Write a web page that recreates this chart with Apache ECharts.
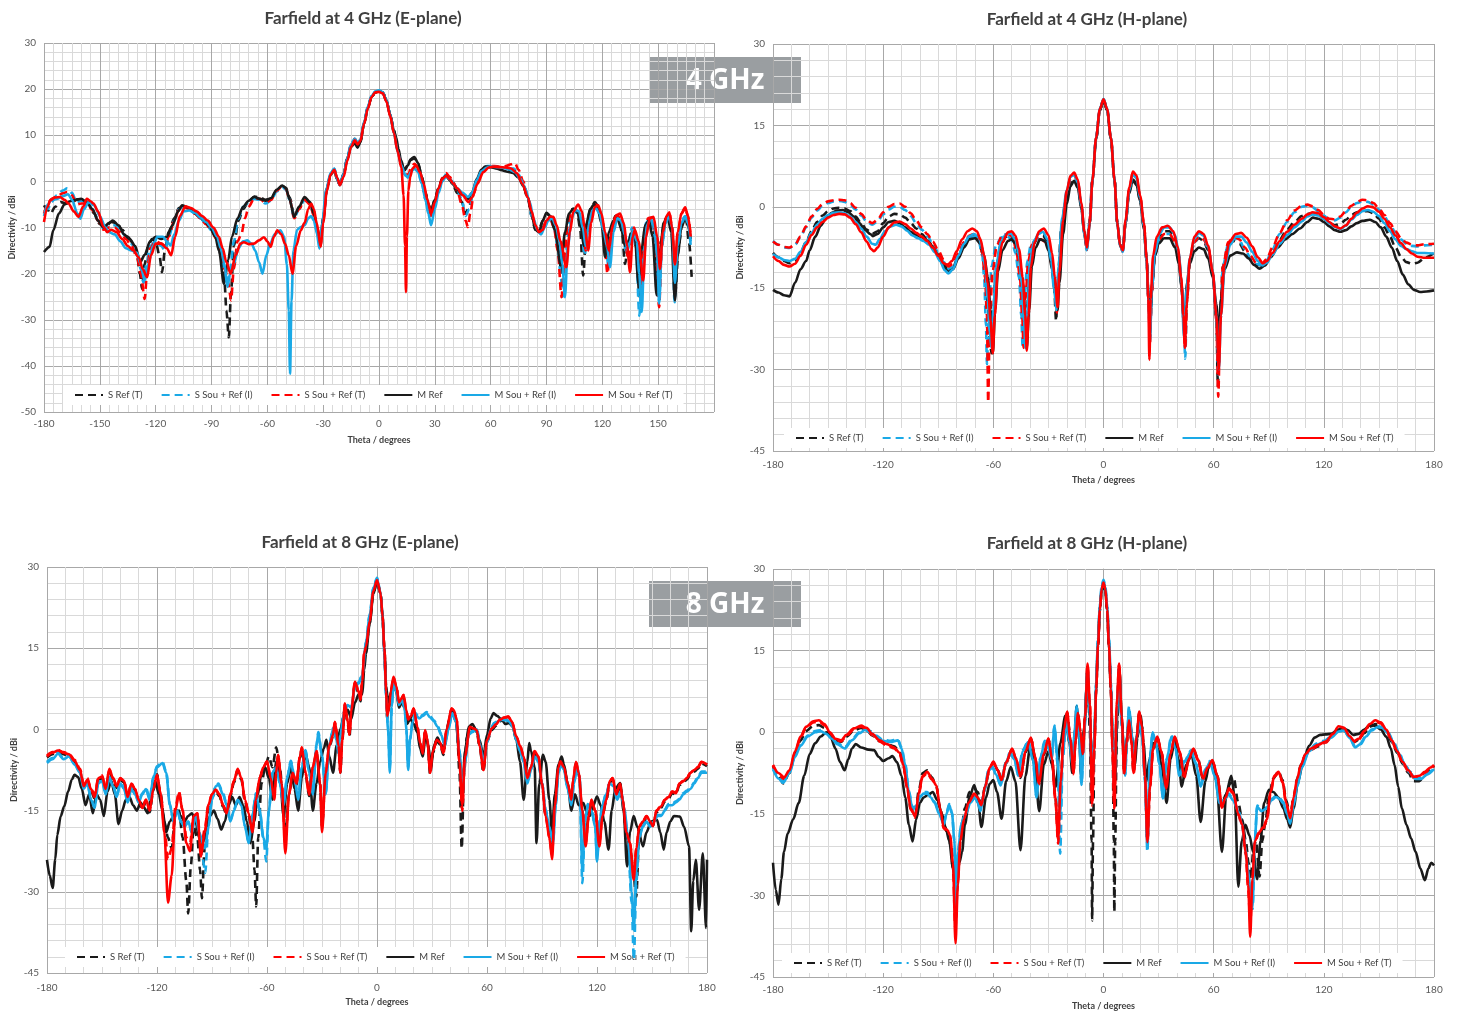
<!DOCTYPE html>
<html>
<head>
<meta charset="utf-8">
<title>Farfield directivity</title>
<script src="https://cdn.jsdelivr.net/npm/echarts/dist/echarts.min.js"></script>
<style>
  html, body { margin: 0; padding: 0; background: #ffffff; }
  #chart { width: 1460px; height: 1015px; }
</style>
</head>
<body>
<div id="chart"></div>
<script>
// Series names, in drawing order (later series are painted on top)
const NAMES = ['S Ref (T)', 'S Sou + Ref (I)', 'S Sou + Ref (T)', 'M Ref', 'M Sou + Ref (I)', 'M Sou + Ref (T)'];

// ---------- 4 GHz, E-plane : [theta (deg), directivity (dBi)] ----------
const e4SRefT = [[-180,-5.2],[-178,-6.2],[-176.5,-7],[-174,-5.5],[-171,-4.5],[-168,-4.8],[-165,-4.5],[-162,-3.9],[-159,-4],[-156,-5],[-153,-7],[-150,-9.3],[-147,-10],[-144,-8.8],[-141,-9],[-138,-10.5],[-135,-12],[-132,-13.5],[-130,-16],[-128.5,-20],[-127.3,-23.3],[-126,-18],[-124,-14],[-122,-12.5],[-120,-13],[-118,-16],[-116.6,-19.7],[-115,-15],[-113,-11],[-110,-8],[-107.5,-5.8],[-105,-5.3],[-102,-5.8],[-99,-6.8],[-96,-7.8],[-93,-9],[-90,-10.5],[-87,-12.5],[-85,-16],[-83,-22],[-82,-28],[-80.7,-33.8],[-79.5,-24],[-78,-14],[-75.5,-8.5],[-73,-6],[-70,-4.3],[-67,-3.3],[-64,-3.5],[-61,-4],[-58,-3.8],[-55,-2],[-52,-1],[-50,-1.4],[-48,-3.5],[-45.5,-7.5],[-43,-6],[-40,-3.8],[-37,-4.5],[-35,-6.5],[-33,-10.5],[-31.5,-13],[-30,-8],[-28,-1.5],[-26,1.5],[-24,2.4],[-22.5,0.5],[-21,-0.8],[-19,1.5],[-17,5],[-15,7.8],[-13,8.5],[-11.5,7.5],[-10,8.6],[-8,12.6],[-6,16],[-4,18.3],[-2,19.3],[0,19.5],[2,19.3],[4,17.5],[6,14.5],[8,11],[10,7],[12,4],[13.6,2.3],[15.5,3.5],[17,4.6],[19,5],[21,3.8],[23,1],[25,-2.5],[26.5,-5],[28,-6.5],[30,-4],[32,-1.5],[34,0.5],[36,1.3],[38,0.3],[40,-1],[42,-2.5],[44.5,-4.5],[46.5,-7],[48.5,-5.5],[50.5,-2.5],[53,0.5],[55.5,2.5],[58,3.2],[61,3],[64,2.8],[67,2.5],[70,2.5],[72.5,2.5],[75,1],[77.5,-1],[80,-3.8],[82,-7.5],[84,-10.5],[86,-10.5],[88,-8.5],[90,-7],[92,-7.5],[94.5,-10.5],[96.5,-15],[98,-20],[99.5,-14],[101.5,-8],[104,-6],[106.5,-6.8],[108,-10],[109.7,-20.4],[111.5,-10],[113.5,-6],[116,-4.5],[118,-5.5],[120,-8.5],[121.5,-13],[123,-17],[125,-10],[127,-7.5],[129,-8],[130.5,-11],[132.2,-17.9],[134,-13],[136,-10.5],[138,-14],[140,-25],[141.5,-15],[143.5,-9],[145.5,-8.5],[147.5,-11],[149.5,-22],[151.5,-13],[153.5,-8.5],[155.5,-7.5],[157.5,-11],[159.2,-24],[161,-14],[163,-9],[165,-8],[166.5,-13],[168,-20.7]];
const e4SSouI = [[-180,-6.5],[-178,-6],[-176,-4.5],[-173,-3],[-170,-2],[-167.5,-1.5],[-165,-2.5],[-162.5,-4.5],[-160,-4.2],[-157,-4.5],[-154,-6],[-151,-8.5],[-148,-10.2],[-145,-9.5],[-142,-9.5],[-139,-10.5],[-136,-12],[-133,-13.5],[-130,-16],[-128,-19],[-126.5,-22],[-125,-18],[-123,-14],[-120,-13],[-117,-14],[-115,-15],[-113,-12],[-110,-8.5],[-107.5,-6],[-105,-5.5],[-102,-6],[-99,-7],[-96,-8],[-93,-9.2],[-90,-10.6],[-87,-12.5],[-85,-15.5],[-83,-19],[-81.5,-22.5],[-80,-19],[-78,-13],[-75.5,-8],[-73,-5.5],[-70,-4.5],[-67,-3.8],[-64,-4],[-61,-4.8],[-58,-4.2],[-55,-2.2],[-52,-1.2],[-50,-1.8],[-48,-4],[-45.5,-8],[-43,-6],[-40,-4],[-37,-5],[-35,-7.5],[-33,-11.5],[-31.5,-14],[-30,-8.5],[-28,-1.5],[-26,1.8],[-24,2.7],[-22.5,0.7],[-21,-0.6],[-19,1.8],[-17,5.3],[-15,8.2],[-13,9.3],[-11.5,8.3],[-10,9],[-8,12.8],[-6,16.2],[-4,18.5],[-2,19.5],[0,19.7],[2,19.4],[4,17.6],[6,14.5],[8,10.8],[10,6.8],[12,3.5],[14,1.3],[15.8,1],[17,2],[19,3],[21,2.3],[23,-0.5],[25,-4],[26.5,-6.5],[28,-8],[30,-5],[32,-2],[34,0.5],[36,1.5],[38,0.8],[40,-0.3],[42,-1.8],[44.5,-4],[46.5,-7.5],[48.5,-6],[50.5,-2.5],[53,0.5],[55.5,2.5],[58,3.3],[61,3.3],[64,3],[67,2.8],[70,2.8],[72.5,2.8],[75,1.5],[77.5,-0.5],[80,-3.5],[82,-7.5],[84,-10],[86,-11],[88,-10],[90,-8.5],[92,-8],[94,-10],[96,-14],[97.5,-20],[98.8,-25],[100.5,-15],[102.5,-8.5],[104.5,-6.2],[106.5,-6.5],[108.5,-9.5],[110.5,-16],[112,-11],[114,-6.5],[116,-5.3],[118,-6.2],[120,-9],[122,-15],[123.5,-19],[125,-12],[127,-8.3],[129,-8.5],[131,-11],[132.5,-15],[134,-13],[136,-10],[138,-14],[139.9,-29.1],[141.5,-16],[143.5,-9],[145.5,-8],[147.5,-10.5],[149.5,-18],[150.5,-26],[152,-14],[154,-8.5],[156,-7.5],[157.5,-11],[158.8,-26.2],[160.5,-14],[162.5,-8.5],[164.5,-7.5],[166,-9],[167.5,-14]];
const e4SSouT = [[-180,-7],[-178,-5],[-176,-3.8],[-173,-3.2],[-170,-2.6],[-167.5,-2.3],[-165,-3],[-162.5,-5],[-160,-4.8],[-157,-4.8],[-154,-6.2],[-151,-8.5],[-148,-10.5],[-145,-10],[-142,-10],[-139,-11],[-136,-12.5],[-133,-14],[-130,-16.5],[-128,-20],[-125.9,-25.5],[-124.5,-19],[-123,-14.5],[-120,-13],[-117,-13.5],[-115,-14],[-113,-12],[-110,-8.5],[-107.5,-6.2],[-105,-5.6],[-102,-6],[-99,-7],[-96,-8],[-93,-9.3],[-90,-10.7],[-87,-12.8],[-85,-15.5],[-83,-19],[-81,-22],[-79.5,-25.8],[-78,-19],[-76,-13],[-74,-11.5],[-72,-8],[-70,-5.5],[-67,-3.6],[-64,-3.8],[-61,-4.7],[-58,-4],[-55,-2],[-52,-1],[-50,-1.6],[-48,-4],[-45.5,-8],[-43,-6],[-40,-4],[-37,-5],[-35,-7.5],[-33,-11.5],[-31.5,-14],[-30,-8.5],[-28,-1.8],[-26,1.5],[-24,2.5],[-22.5,0.6],[-21,-0.8],[-19,1.5],[-17,5],[-15,8],[-13,9.2],[-11.5,8.2],[-10,8.9],[-8,12.6],[-6,16],[-4,18.3],[-2,19.3],[0,19.5],[2,19.2],[4,17.4],[6,14.3],[8,10.5],[10,6.5],[12,3.5],[14,1.5],[15.8,1.5],[17,2.8],[19,3.8],[21,3],[23,0],[25,-3.5],[26.5,-6],[28,-7.5],[30,-4.5],[32,-1.5],[34,0.8],[36,1.8],[38,1],[40,-0.3],[42,-2],[44.5,-5],[46.5,-8.5],[47.8,-9.9],[49,-7],[51,-2.5],[53.5,0.8],[56,2.8],[59,3.4],[62,3.3],[65,3.2],[68,3.3],[71,3.7],[73,4],[75,2.5],[77.5,0],[80,-3.5],[82,-7],[84,-10],[86,-11],[88,-10],[90,-8.5],[92,-8],[94,-10],[96,-15],[98.1,-25.1],[99.5,-17],[101.5,-9],[103.5,-6.5],[105.5,-6],[107.5,-7],[109.5,-11],[111,-15],[112.5,-10],[114.5,-6],[116.5,-5],[118.5,-6],[120.5,-10],[122.8,-20],[124.5,-12],[126.5,-8],[128.5,-7.5],[130.5,-9.5],[132.5,-14],[134,-17],[135.5,-12],[137,-10],[139,-15],[141,-24],[142.5,-13],[144.5,-8],[146.5,-7.8],[148.5,-11],[150.5,-27.3],[152,-14],[154,-8],[156,-6.8],[157.5,-10],[159,-20],[160.5,-12],[162.5,-7],[164.5,-5.8],[166,-7.5],[167.5,-12]];
const e4MRef = [[-180,-15.3],[-177,-14.2],[-175,-10.6],[-172,-7],[-169,-5],[-166,-4.3],[-163,-4],[-160,-3.8],[-157,-4.5],[-154,-6],[-151,-8.5],[-148,-10],[-145,-9],[-143,-8.5],[-140,-9.5],[-137,-11.5],[-134,-12.5],[-131,-14],[-128.3,-17.5],[-126,-16],[-123,-13],[-120,-12],[-117,-12.5],[-114,-12],[-111,-9.5],[-108,-6.5],[-105.8,-5.2],[-103,-5.6],[-100,-6.5],[-97,-7.5],[-94,-8.5],[-91,-9.8],[-88,-12],[-86,-15],[-83.3,-22.2],[-81,-17],[-79,-12],[-76,-8],[-73,-5.5],[-70,-4.2],[-67,-3.4],[-64,-3.8],[-61,-4.2],[-58,-3.6],[-55,-1.8],[-52,-0.9],[-50,-1.5],[-48,-4],[-45.6,-7.7],[-43,-5.5],[-40,-3.4],[-37,-4.5],[-35,-7],[-33,-11],[-31.5,-13],[-30,-8],[-28,-1.5],[-26,1.5],[-24,2.3],[-22.5,0.5],[-21,-0.8],[-19,1.5],[-17,5],[-15,7.5],[-13,8.3],[-11.5,7.3],[-10,8.5],[-8,12.5],[-6,16],[-4,18.3],[-2,19.3],[0,19.5],[2,19.3],[4,17.5],[6,14.5],[8,11],[9.2,9.5],[10.5,7],[11.8,4.6],[13.6,2.5],[15.5,3.5],[17,4.8],[19,5.3],[21,4],[23,1],[25,-2.5],[26.5,-5],[28,-6.3],[30,-4],[32,-1.5],[34,0.5],[36,1.2],[38,0.3],[40,-0.8],[42,-1.8],[44.5,-2.8],[47.8,-3.8],[50,-2.5],[52.5,0.5],[55,2.5],[57,3.2],[60,3.1],[63,2.8],[66,2.4],[69,2.1],[72,1.8],[75,0.8],[77.5,-1],[80,-3.5],[82,-7],[84,-10.5],[86,-11],[88,-8.5],[90,-6.8],[92,-7.5],[94.5,-10.5],[97.7,-18.2],[100,-11],[102,-7],[104.5,-5.9],[106.5,-6.5],[108.5,-10],[110,-14],[111.5,-9],[113.5,-6],[115.5,-5],[117.5,-6],[119.5,-9],[121.5,-16.4],[123.5,-11],[126,-8.5],[128,-8],[130,-10],[132.2,-14],[134,-13],[136,-11],[137.5,-12],[139.4,-22.2],[141,-15],[143,-9.5],[145,-8.5],[147,-12],[149.2,-24.7],[151,-15],[153,-9],[155,-7.5],[157,-11],[159,-25.8],[160.5,-16],[162.5,-10],[164.5,-8],[166,-9.5],[167.5,-12.5]];
const e4MSouI = [[-180,-7.5],[-178,-5],[-176,-4],[-173,-3.8],[-170,-3.2],[-167,-2.8],[-165,-4],[-162,-7],[-160.5,-8.1],[-158.5,-6],[-156,-4.5],[-153,-5.2],[-150,-7.5],[-147,-10],[-145,-11],[-142,-11.5],[-139,-13],[-136,-14.5],[-133,-15],[-130,-15.5],[-128,-18],[-126,-21.5],[-124,-18],[-121.5,-14],[-119,-12],[-116,-12],[-114,-13],[-112,-13.9],[-110,-11.5],[-107.5,-8.5],[-105,-6.5],[-102,-6.3],[-99,-6.8],[-96,-7.8],[-93,-8.8],[-90,-10],[-87,-12],[-85,-14.5],[-83,-18],[-81.5,-22.9],[-80,-20],[-78,-17.9],[-75.5,-14.5],[-73,-13],[-70.8,-12.8],[-68.5,-13.5],[-66.5,-15],[-64.5,-17.5],[-62.6,-20],[-60.5,-16],[-58.5,-13.5],[-56,-11.5],[-53,-10.6],[-51,-12],[-49.5,-18],[-48.5,-28],[-47.8,-41.7],[-47,-26],[-46,-15],[-44,-10.5],[-42,-9.9],[-40,-9.5],[-38,-8],[-36.5,-7.5],[-35,-8.5],[-33.5,-11],[-32,-14.6],[-30.5,-9],[-28.5,-2],[-26,1.8],[-24,2.8],[-22.5,0.5],[-21,-0.8],[-19,1.5],[-17,5],[-15,8],[-13,9.2],[-11.5,8.3],[-10,9],[-8,12.8],[-6,16.2],[-4,18.5],[-2,19.5],[0,19.7],[2,19.3],[4,17.5],[6,14.5],[8,10.5],[10,6.5],[12,3.5],[14,1.5],[15.6,0.8],[17,2],[19,2.8],[21,2],[23,-0.5],[25,-4],[26.5,-7],[28,-9.5],[30,-6],[32,-2.5],[34,0],[36,1],[38,0.5],[40,-0.5],[42,-1.5],[45,-2.5],[47.8,-3.4],[50,-2.5],[52.5,0.3],[55,2.2],[58,3],[61,3.2],[64,3.1],[67,2.9],[70,2.6],[73,2],[76,0.5],[78.5,-1.5],[81,-4.5],[83,-8],[85,-10.5],[87,-11.5],[89,-10],[91,-8.5],[93,-8],[95,-9.5],[97,-13],[98.5,-18],[99.9,-25.1],[101.5,-14],[103.5,-8],[105.5,-6.2],[107.5,-6.5],[109.5,-10],[111,-14],[112.5,-10],[114.5,-6.5],[116.5,-5.8],[118.5,-7],[120.5,-10.5],[122.5,-14],[124.1,-18.6],[126,-11],[128,-8],[130,-8.5],[132,-11.5],[133.5,-15],[135,-13],[136.5,-10.5],[138.5,-13],[139.8,-20],[141.2,-28.3],[142.5,-16],[144,-9.5],[146,-8],[148,-10],[149.5,-16],[150.5,-26.5],[152,-14],[154,-9],[156,-7.5],[157.5,-10],[159,-22],[160.5,-14],[162.5,-9],[164.5,-7.7],[166,-9],[167.5,-13]];
const e4MSouT = [[-180,-8.8],[-178,-5.5],[-176.7,-4.1],[-174,-3.5],[-171.4,-3.4],[-169,-4],[-166.8,-4.8],[-164,-6.5],[-161.5,-7.7],[-159,-5.5],[-157,-3.8],[-155,-4.3],[-153.4,-4.8],[-151,-6.5],[-148,-9.9],[-146,-11],[-144,-10.5],[-141,-11],[-138,-12.5],[-135,-14],[-132,-15],[-129,-16.5],[-127,-19],[-124.6,-20.8],[-122.5,-16],[-120,-13.5],[-117,-13.5],[-114,-14.5],[-111.7,-16],[-109.5,-12],[-107,-7.5],[-104,-5.4],[-101,-5.8],[-98,-6.5],[-95,-7.5],[-92,-8.5],[-89,-10],[-86,-12],[-84,-14.5],[-82,-17.5],[-79.7,-20],[-77,-16],[-74.5,-13.5],[-72.6,-13.2],[-70,-13.6],[-67.2,-13.5],[-64.5,-12.8],[-61.8,-12.1],[-60,-13],[-58.2,-14.2],[-56.5,-12],[-54.6,-10.6],[-52.5,-11.5],[-50.5,-13.5],[-48.5,-16],[-46.5,-20],[-44.5,-14],[-42,-10.6],[-40,-9],[-38,-6],[-36.4,-4.8],[-35,-6],[-33.5,-9],[-31.3,-14.2],[-30,-9],[-28,-2],[-26,1.5],[-24,2.5],[-22.5,0.8],[-21,-0.8],[-19,1],[-17,4.5],[-15,7.5],[-13,8.9],[-11.5,8],[-10,8.8],[-8,12.5],[-6,15.8],[-4,18.3],[-2,19.3],[0,19.4],[2,19.1],[4,17.3],[6,14.2],[8,10.5],[10,6.5],[12,3],[13.2,-3],[14,-14],[14.5,-24],[15,-12],[15.8,-2],[16.8,1],[18,2.8],[19.9,3.5],[22,2],[24,-0.5],[26,-4],[28,-7],[30,-4.5],[32,-1.5],[34,0.5],[36,1.2],[38,0.5],[40,-0.5],[42,-1.5],[45,-3],[48,-4.5],[50,-3.5],[53,-0.5],[56,2],[59,3],[62,3.2],[65,3.1],[68,3],[71,2.8],[74,1.8],[77,-0.5],[80,-3.5],[82,-6.5],[84,-9.5],[86,-11],[88,-10.5],[90,-8.5],[92,-7.6],[93.6,-7.7],[95.5,-9.5],[97.5,-13],[100.7,-18.6],[102.5,-11],[104.5,-6.5],[107,-5],[109,-6.5],[110.5,-10],[112.4,-15],[114,-9],[116,-5.5],[117.8,-5.2],[119.5,-7],[121.5,-11],[123.5,-15],[125.5,-9.5],[127.5,-7.3],[129.5,-7],[131.5,-9],[133.3,-14],[134.9,-19.7],[136.3,-12],[137.5,-10.5],[139.5,-13],[142,-21.5],[143.5,-12],[145.5,-8],[147.5,-7.7],[149.5,-12],[151,-19],[152.5,-11],[154.5,-7.5],[156,-6.7],[157.5,-10],[159,-18],[160.5,-11],[162.5,-7],[164.5,-5.6],[166,-7.5],[167.5,-12]];

// ---------- 4 GHz, H-plane ----------
const h4SRefT = [[-180,-8.5],[-177,-9.3],[-174,-10],[-171,-10.4],[-168,-10],[-165,-8.5],[-162,-6.5],[-159,-4.5],[-156,-2.8],[-153,-1.6],[-150,-0.8],[-147,-0.3],[-144,-0.2],[-141,-0.3],[-138,-0.8],[-135,-1.8],[-132,-3],[-129,-4.2],[-126,-5],[-123,-4.5],[-120,-3],[-117,-1.8],[-114,-1.3],[-111,-1.4],[-108,-2],[-105,-3],[-102,-4],[-99,-5],[-96,-6],[-93,-7.3],[-90,-8.8],[-87,-10.6],[-84.5,-11.8],[-82,-11.2],[-79,-9],[-76,-7],[-73,-5.8],[-70.5,-5.5],[-68,-6.2],[-66,-8.5],[-64.5,-12],[-63,-18],[-62,-24],[-61,-27],[-60,-19],[-58.5,-11],[-56,-7],[-53,-5.5],[-50.5,-5.3],[-48,-6.3],[-46,-9],[-44.5,-14],[-43.3,-21],[-42.6,-25],[-41.5,-18],[-40,-10],[-38,-6.8],[-35.5,-5.5],[-33,-5.3],[-30.5,-6.5],[-28.5,-10],[-27,-14],[-25.8,-21],[-24.8,-13],[-23,-4],[-20.5,1.5],[-18,4.5],[-16,5.2],[-14,4],[-12,0],[-10.5,-4.5],[-9,-7.5],[-7.5,-3],[-6,5],[-4,12.6],[-2,17.8],[0,19.7],[2,17.8],[4,12.6],[6,5],[7.5,-3],[9,-7],[10.5,-8],[12,-3],[14,2.5],[16,5],[18,4.3],[20,1],[22,-3.8],[23.5,-10],[24.5,-17],[25.3,-23],[26.3,-15],[28,-8.5],[30.5,-5.5],[33,-4.5],[36,-4.5],[39,-6],[41,-9],[42.5,-14],[43.6,-21],[44.4,-25],[45.4,-17],[47,-10],[49.5,-6.5],[52,-5.8],[54.5,-6.3],[57,-8],[59.5,-12.5],[61.5,-21],[62.3,-33],[63.3,-22],[65,-11],[68,-7],[71,-6.3],[74,-6.8],[77,-8.2],[80,-9.6],[83,-10.6],[86,-10.8],[89,-10],[92,-8.3],[96,-6],[100,-4.2],[104,-2.8],[108,-1.7],[111,-1.3],[114,-1.2],[117,-1.5],[120,-2.2],[123,-3],[126,-3.4],[129,-3.1],[132,-2.4],[135,-1.5],[138,-1],[141,-0.8],[144,-0.8],[147,-1.2],[150,-2.2],[153,-3.8],[156,-5.5],[159,-7.5],[162,-9.2],[165,-10.2],[168,-10.5],[171,-10.3],[175,-9.4],[180,-8.5]];
const h4SSouI = [[-180,-6.3],[-177,-7],[-174,-7.5],[-171,-7.6],[-168,-7],[-165,-5.5],[-162,-3.8],[-159,-2],[-156,-0.7],[-153,0.2],[-150,0.7],[-147,1],[-144,1.1],[-141,0.9],[-138,0.4],[-135,-0.5],[-132,-1.6],[-129,-2.7],[-126,-3.3],[-123,-2.7],[-120,-1.4],[-117,-0.5],[-114,0],[-111,0],[-108,-0.6],[-105,-1.7],[-102,-3],[-99,-4.2],[-96,-5.4],[-93,-6.8],[-90,-8.4],[-87,-10.2],[-84.5,-11.5],[-82,-11],[-79,-9],[-76,-7],[-73,-5.8],[-70.5,-5.5],[-68,-6.3],[-66,-9],[-65,-13],[-64,-22],[-63.5,-29],[-62.5,-20],[-61,-11],[-58.5,-7],[-55.5,-5.6],[-52.5,-5.4],[-50,-6],[-48,-8.5],[-46,-13],[-44.8,-20],[-44,-26],[-43,-17],[-41.5,-10],[-39.5,-7],[-37,-6],[-34.5,-5.8],[-32,-6.3],[-30,-7.5],[-28,-11],[-26.5,-15],[-25.5,-19],[-24.5,-12],[-22.5,-3],[-20,2.5],[-18,5.3],[-16,6],[-14,4.6],[-12,0.3],[-10.5,-4.5],[-9.2,-8],[-7.8,-3],[-6,5],[-4,12.8],[-2,18],[0,19.9],[2,18],[4,12.8],[6,5],[7.5,-3],[9,-7],[10.5,-8.3],[12,-3],[14,3],[16,6],[18,5.3],[20,1.5],[22,-3.3],[23.5,-9.5],[24.5,-17],[25.3,-24],[26.3,-16],[28,-9],[30.5,-6],[33,-5],[36,-5],[39,-6.5],[41,-9.5],[42.5,-14.5],[43.8,-22],[44.5,-28],[45.5,-17],[47,-10],[49.5,-6.5],[52,-5.6],[54.5,-6],[57,-7.6],[59.5,-12],[61.5,-20],[62.5,-31],[63.5,-21],[65,-11],[68,-6.8],[71,-5.8],[74,-6.2],[77,-7.8],[80,-9.3],[83,-10.5],[86,-10.8],[89,-9.8],[92,-7.8],[96,-5],[100,-2.8],[104,-1],[108,0],[111,0.2],[114,-0.1],[117,-0.8],[120,-1.6],[123,-2.4],[126,-2.5],[129,-2],[132,-1],[135,0],[138,0.7],[141,1],[144,0.9],[147,0.4],[150,-0.5],[153,-1.8],[156,-3.2],[159,-4.7],[162,-6],[165,-6.8],[168,-7.2],[171,-7.3],[175,-7.1],[180,-7]];
const h4SSouT = [[-180,-6.4],[-177,-7],[-174,-7.4],[-171,-7.5],[-168,-7],[-165,-5.5],[-162,-3.6],[-159,-1.8],[-156,-0.4],[-153,0.5],[-150,1],[-147,1.2],[-144,1.3],[-141,1.2],[-138,0.7],[-135,-0.2],[-132,-1.3],[-129,-2.4],[-126,-3],[-123,-2.4],[-120,-1],[-117,0],[-114,0.5],[-111,0.6],[-108,0],[-105,-1.2],[-102,-2.5],[-99,-3.8],[-96,-5],[-93,-6.4],[-90,-8],[-87,-9.8],[-84.5,-11],[-82,-10.5],[-79,-8.5],[-76,-6.5],[-73,-5.3],[-70.5,-5],[-68,-5.8],[-66,-8.5],[-64.5,-13],[-63.5,-20],[-62.8,-36],[-62,-22],[-60.5,-12],[-58,-7],[-55,-5.2],[-52,-5],[-49.5,-5.5],[-47.5,-8],[-45.5,-13],[-44.3,-20],[-43.5,-26],[-42.5,-17],[-41,-10],[-39,-7],[-36.5,-6],[-34,-6],[-31.5,-6.5],[-30,-7.5],[-28,-11],[-26.5,-15],[-25.3,-19.5],[-24.3,-12],[-22.5,-3],[-20,2.5],[-18,5.3],[-16,6],[-14,4.6],[-12,0.3],[-10.5,-4.5],[-9.2,-8],[-7.8,-3],[-6,5],[-4,12.7],[-2,17.9],[0,19.8],[2,17.9],[4,12.7],[6,5],[7.5,-3],[9,-7],[10.5,-8.3],[12,-3],[14,3.2],[16,6.2],[18,5.5],[20,1.8],[22,-3],[23.5,-9.5],[24.5,-17],[25.3,-25],[26.3,-16],[28,-9],[30.5,-6],[33,-5],[36,-5],[39,-6.5],[41,-9.5],[42.5,-14.5],[43.6,-21],[44.5,-26],[45.5,-17],[47,-10],[49.5,-6.5],[52,-5.5],[54.5,-6],[57,-7.5],[59.5,-12],[61.5,-21],[62.5,-35],[63.5,-22],[65,-11],[68,-6.5],[71,-5.5],[74,-6],[77,-7.5],[80,-9],[83,-10.3],[86,-10.6],[89,-9.6],[92,-7.5],[96,-4.8],[100,-2.5],[104,-0.7],[108,0.2],[111,0.4],[114,0.1],[117,-0.6],[120,-1.5],[123,-2.2],[126,-2.3],[129,-1.8],[132,-0.8],[135,0.2],[138,0.9],[141,1.3],[144,1.2],[147,0.7],[150,-0.3],[153,-1.5],[156,-3],[159,-4.5],[162,-5.8],[165,-6.6],[168,-7],[171,-7.1],[175,-6.9],[180,-6.8]];
const h4MRef = [[-180,-15.3],[-177,-15.8],[-174,-16.3],[-171,-16.5],[-168,-14],[-165,-11.5],[-162,-10],[-160,-8],[-157,-5.5],[-154,-3.5],[-151,-2],[-148,-1.1],[-145,-0.7],[-142,-0.6],[-139,-1],[-136,-1.8],[-133,-3],[-130,-4.2],[-127,-5],[-125.6,-5.4],[-123,-5],[-120,-3.8],[-117,-2.8],[-114,-2.6],[-111,-3],[-108,-3.8],[-105,-4.6],[-102,-5.2],[-99,-5.6],[-96,-6.2],[-93,-7.5],[-90,-9],[-87,-11],[-84.7,-12],[-82,-11.5],[-79,-9.5],[-76,-7.5],[-73,-6],[-70,-5.8],[-67,-6.8],[-65,-9],[-63,-13],[-61.5,-19],[-60.3,-27],[-59,-19],[-57.5,-12],[-55,-8],[-52,-6.3],[-50,-6],[-48,-6.8],[-46,-9],[-44,-14],[-42.5,-21],[-41.8,-26],[-40.5,-19],[-39,-11],[-37,-7.5],[-34.5,-6],[-32,-6.3],[-30,-8],[-28,-11.5],[-26.5,-16],[-25,-19],[-24,-14],[-22,-5],[-20,0.5],[-18,3.8],[-16,4.8],[-14,3.5],[-12,-0.5],[-10.5,-5],[-9,-7.5],[-7.5,-3],[-6,5],[-4,12.5],[-2,17.8],[0,19.6],[2,17.8],[4,12.5],[6,5],[7.5,-3],[9,-7],[10.5,-8],[12,-3],[14,3],[16,4.8],[18,4],[20,1],[22,-4],[23.5,-10],[24.5,-16],[25.5,-21],[26.5,-14],[28,-9],[30,-6.8],[33,-5.8],[36,-5.8],[39,-7.5],[41,-10.5],[42.5,-15],[44,-22],[45.5,-14],[47,-10.5],[49.5,-8.2],[52,-7.5],[54.5,-7.8],[57,-9.5],[59.5,-13],[61.5,-18],[62.8,-24],[64,-17],[66,-11.5],[69,-9],[72.7,-8.4],[76,-8.6],[79,-9.5],[82,-10.7],[85,-11.4],[88,-10.8],[91,-9.3],[95,-7.5],[99,-6],[103,-5],[107,-4],[111,-2.8],[114,-2],[117,-2.2],[120,-2.8],[123,-3.6],[126,-4.3],[129,-4.6],[132,-4.3],[135,-3.6],[138,-3],[141,-2.6],[145,-2.4],[148,-2.8],[151,-3.8],[154,-5.5],[157,-7.5],[160,-10],[163,-12.5],[166,-14.3],[169,-15.3],[172.5,-15.7],[176,-15.6],[180,-15.4]];
const h4MSouI = [[-180,-8.7],[-177,-9.3],[-174,-9.8],[-171,-10],[-168,-9.6],[-165,-8.3],[-162,-6.5],[-159,-4.8],[-156,-3.3],[-153,-2.2],[-150,-1.5],[-147,-1.1],[-144,-1],[-141,-1.2],[-138,-1.8],[-135,-2.8],[-132,-4],[-129,-5.5],[-126,-6.8],[-124,-7],[-122,-6],[-119,-4.5],[-116,-3.6],[-113,-3.3],[-110,-3.6],[-107,-4.4],[-104,-5.3],[-101,-5.8],[-98,-6.3],[-95,-7],[-92,-8.3],[-89,-10],[-86.5,-11.7],[-84.5,-12.3],[-82,-11.5],[-79,-9],[-76,-6.8],[-73,-5.4],[-70.5,-5],[-68,-5.6],[-66,-7.5],[-64.5,-11],[-63,-17],[-62,-23],[-61,-26],[-60,-19],[-58.5,-11],[-56,-6.5],[-53,-5],[-50.5,-4.9],[-48,-6],[-46,-9],[-44.5,-14],[-43.3,-21],[-42.5,-26],[-41.5,-19],[-40,-10],[-38,-6.5],[-35.5,-5],[-33,-4.6],[-30.5,-6],[-28.5,-10],[-27,-15],[-25.6,-19],[-24.5,-11],[-22.5,-2],[-20,3],[-18,5.5],[-16,6],[-14,4.5],[-12,0],[-10.5,-5],[-9,-7.8],[-7.5,-3],[-6,5],[-4,12.8],[-2,18],[0,19.9],[2,18],[4,12.8],[6,5],[7.5,-3],[9,-7],[10.5,-8.3],[12,-3],[14,3],[16,6],[18,5.3],[20,1.5],[22,-3.5],[23.5,-10],[24.5,-17],[25.3,-25],[26.3,-15],[28,-8.5],[30.5,-5],[33,-3.8],[36,-3.8],[39,-5.2],[41,-8.5],[42.5,-14],[43.8,-24],[45.3,-15],[47,-9.5],[49.5,-5.8],[52,-4.8],[54.5,-5.3],[57,-7.5],[59.5,-12],[61.5,-20],[62.8,-30],[64,-20],[66,-11],[69,-7],[72,-5.5],[75,-5.5],[78,-6.6],[81,-8.3],[84,-10],[86.5,-10.8],[89,-10.3],[92,-8.8],[96,-6.8],[100,-5.2],[104,-3.8],[108,-2.7],[111,-1.8],[114,-1.4],[117,-1.6],[120,-2.2],[123,-3],[126,-3.7],[129,-4.1],[132,-3.5],[135,-2.4],[138,-1.5],[141,-0.8],[144,-0.6],[147,-0.9],[150,-1.7],[153,-3],[156,-4.5],[159,-6],[162,-7.2],[165,-7.8],[168,-8.2],[171,-8.5],[175,-8.5],[180,-8.6]];
const h4MSouT = [[-180,-9.1],[-177,-10],[-174,-10.7],[-171,-11],[-168,-10.5],[-165,-9],[-162,-7],[-159,-5.2],[-156,-3.8],[-153,-2.8],[-150,-2],[-147,-1.5],[-144,-1.3],[-141,-1.4],[-138,-2],[-135,-3.2],[-132,-4.7],[-129,-6.4],[-126.5,-7.8],[-125,-8.2],[-123,-7.5],[-120,-5.5],[-117,-3.8],[-114,-2.9],[-111,-2.7],[-108,-3.2],[-105,-4],[-102,-4.8],[-99,-5.5],[-96,-6.3],[-93,-7.5],[-90,-9],[-87,-10.4],[-85,-10.7],[-82.5,-10],[-80,-8.2],[-77,-6],[-74,-4.5],[-71.5,-4],[-69,-4.5],[-67,-6],[-65,-9],[-63,-14],[-61.5,-21],[-60.3,-27],[-59.2,-20],[-57.5,-11],[-55,-6.5],[-52,-4.7],[-50,-4.5],[-48,-5.3],[-46,-7.8],[-44,-13],[-42.6,-20],[-41.8,-26.5],[-40.8,-20],[-39.5,-11],[-37.5,-6.5],[-35,-4.5],[-32.5,-4],[-30,-5.2],[-28,-8.5],[-26.5,-13],[-25,-18.5],[-24,-12],[-22,-2.5],[-20,3],[-18,5.7],[-16,6.3],[-14,5],[-12,0.5],[-10.5,-4.5],[-9,-7.5],[-7.5,-3],[-6,5],[-4,12.8],[-2,18],[0,19.8],[2,18],[4,12.8],[6,5],[7.5,-3],[9,-7],[10.6,-8],[12,-2.5],[14,3.5],[16,6.5],[18,5.8],[20,2],[22,-3],[23.5,-9.5],[24.4,-17],[25,-28.2],[25.7,-17],[27,-9],[29,-5.5],[32,-3.8],[35,-3.5],[38,-4.5],[40.5,-7.5],[42.3,-13],[43.5,-20],[44.3,-26],[45.3,-18],[47,-9.5],[49.5,-5.5],[52,-4.5],[54.5,-5],[57,-7.2],[59.5,-12],[61.5,-20],[62.8,-30],[64,-20],[65.7,-11],[68.5,-6.5],[72,-5],[75,-4.8],[78,-5.7],[81,-7.3],[84,-9.3],[86.8,-10.4],[89,-10],[92,-8.5],[96,-6.3],[100,-4.6],[104,-3.3],[108,-2.2],[111,-1.4],[114,-1],[117,-1.2],[120,-1.9],[123,-2.8],[126,-3.6],[129,-4],[132,-3.4],[135,-2.2],[138,-1.1],[141,-0.3],[144,0.1],[147,-0.1],[150,-0.9],[153,-2.2],[156,-3.8],[159,-5.3],[162,-6.7],[165,-7.8],[168,-8.6],[171,-9.2],[175,-9.4],[180,-9.4]];

// ---------- 8 GHz, E-plane ----------
const e8SRefT = [[-180,-5.2],[-177,-4.6],[-174,-4.2],[-171,-4.6],[-168,-5],[-165,-6],[-162,-7.8],[-160,-10.8],[-158,-9.6],[-156,-11.3],[-154,-12.8],[-152,-9.3],[-150,-9],[-148,-11.3],[-146,-7.8],[-144,-9.3],[-142,-10.8],[-140,-9.4],[-138,-9.8],[-136,-12.8],[-134,-10.3],[-132,-11.3],[-130,-13.3],[-128,-14.8],[-126,-13.3],[-124,-15.3],[-122,-11.3],[-120,-8.3],[-118,-12],[-116,-17],[-114,-20],[-112,-22],[-110,-16],[-108,-15],[-106,-20],[-104,-28],[-103,-34],[-101.5,-25],[-100,-18],[-98,-20],[-96.5,-26],[-95.5,-31.2],[-94,-22],[-92,-15],[-90,-12.5],[-88,-11.5],[-86,-12.3],[-84,-14.3],[-82,-15.8],[-80,-12.3],[-78,-9.8],[-76,-7.6],[-74,-9.3],[-72,-13.3],[-70,-16],[-68,-20],[-66.8,-26],[-65.9,-32.7],[-64.8,-20],[-63,-10],[-61,-7],[-59,-5],[-57,-7],[-55,-3.3],[-53,-7],[-51,-14],[-50,-20],[-48,-12],[-46,-8.3],[-44,-10.3],[-42,-5.3],[-41,-3.6],[-39,-8.3],[-37,-12.3],[-35,-7.3],[-33,-4.3],[-31,-10.3],[-30,-18],[-28,-8.3],[-26,-3.3],[-24,-1.3],[-23,1],[-21,-3.3],[-20,-8],[-19,-2.3],[-17.5,4.3],[-16,1.2],[-15,-1.3],[-14,3.2],[-12,8.4],[-10,6.7],[-9,5.2],[-8,8.7],[-7,13.7],[-6,15],[-4,19.7],[-2,25.2],[0,27.4],[2,24.8],[3,20.8],[4,14.8],[5,7],[5.5,2],[6.5,3.7],[7.5,6.7],[9,9.3],[10.5,7.7],[12,4.7],[13,5.2],[14.5,6],[16,3.2],[17,1.5],[18.5,2.2],[20,3.5],[22,0.2],[23.5,-2.8],[25,-4.8],[26.2,-0.4],[27.5,-2.3],[29,-8.3],[30.5,-4.3],[32.6,-2.2],[34.5,-2.8],[36.2,-4.7],[38,-0.3],[40.7,3.5],[42,3.1],[43.5,1],[45,-8],[46.2,-22],[47.5,-8],[49,-1.5],[50.7,0.2],[52.5,0],[54.4,-0.4],[56,-3.3],[58,-7.8],[60,-2.3],[62.6,-0.1],[65,0.7],[67,1.5],[69.5,1.9],[71.6,2],[73.5,1.2],[76,-1.6],[78,-3.3],[80,-5.3],[82,-9.3],[84,-7.3],[86,-4.3],[88,-5.3],[90,-10.3],[92,-16],[94,-19],[95.5,-21],[97,-14],[99,-7.3],[100,-6.2],[102,-7.3],[104,-10.3],[106,-13.3],[107,-9.6],[108.5,-6.3],[110,-8.3],[112,-15],[113.8,-20],[115.5,-16],[117,-13.3],[119,-15.3],[121.3,-20],[123,-16],[125,-13.3],[127,-9.8],[128.5,-9.3],[130.5,-12.3],[132.6,-10.3],[134,-13.3],[136,-19],[138,-22],[139.5,-25],[141.4,-30.9],[143,-20],[145,-17.3],[147,-16.3],[149,-17.3],[150.5,-17.8],[152.5,-15.3],[155,-14.5],[157,-13.3],[159,-12.8],[161,-11.8],[163,-12],[165,-10.3],[167,-9.8],[169,-9.3],[171,-8.3],[173,-7.8],[175,-7.3],[177,-6.3],[180,-6.8]];
const e8SSouI = [[-180,-6],[-177,-5.3],[-174,-4.3],[-171,-5.3],[-168,-4.8],[-165,-6.3],[-162,-7.8],[-160,-10.8],[-158,-9.8],[-156,-12.8],[-154,-14.3],[-152,-9.8],[-150,-9.3],[-148,-11.8],[-146,-8.8],[-144,-10.3],[-142,-12.3],[-140,-9.8],[-138,-10.8],[-136,-13.3],[-134,-10.8],[-132,-11.8],[-130,-13.3],[-128,-11.8],[-126,-10.8],[-124,-12.8],[-122,-8.8],[-120,-6.8],[-117,-6],[-115,-7.8],[-113,-13.8],[-111,-17],[-109,-15],[-107,-17],[-105,-18],[-103,-17],[-101,-19],[-99,-16],[-97,-19.5],[-95,-24],[-93.7,-26.5],[-92,-18],[-90,-13],[-88,-10.3],[-86.5,-10],[-84,-11.8],[-82,-13.8],[-80,-16.8],[-78,-14.8],[-76,-12.8],[-74,-13.8],[-72,-17.8],[-70,-20.8],[-68,-15.8],[-66,-11.8],[-64,-14.8],[-62,-20],[-60.4,-24.4],[-59,-15],[-57,-8],[-55,-6.8],[-53,-9.8],[-51,-13.8],[-49,-8.8],[-47,-5.8],[-45,-8.8],[-43,-12.8],[-41,-6.8],[-39,-3.8],[-37,-7.8],[-35,-11.8],[-33,-2.8],[-32,-0.5],[-30,-4.8],[-28,-11.8],[-26,-2.8],[-24,0.2],[-22,-1.8],[-21.2,-4.2],[-20,-0.8],[-18,3.2],[-16,4.7],[-14,4.2],[-12,8.2],[-10,8.7],[-8,10.2],[-6,16.2],[-4,21.2],[-2,26.2],[0,28],[2,25.2],[3,21.2],[4,14.2],[5,6.2],[6,0.2],[7,-7],[8,4.2],[9,8.7],[10.5,7.2],[12,4.7],[13.5,5.7],[15,4.2],[16,0.2],[17,-7],[18,-1.8],[19.5,1.7],[21,3],[23,2.2],[25,2.7],[27,3.2],[29,2.4],[31,1.7],[33,0.7],[35,-0.8],[37,-2.8],[39,0.2],[41,3.2],[43,1.7],[45,-3.8],[46.5,-11.8],[48,-5.8],[50,-0.8],[52,-0.3],[54.5,0.2],[56,-2.3],[58,-5.8],[60,-2.3],[62,0.2],[64,1.2],[66,1.7],[68,2],[70,1.9],[72,1.7],[74,0.7],[76,-1.8],[78,-3.8],[80,-5.8],[82,-9.8],[84,-7.3],[86,-4.8],[88,-5.8],[90,-9.8],[92,-14.8],[94,-17.8],[96,-20.8],[97.5,-13.8],[99,-7.8],[100.5,-6.3],[102,-7.3],[104,-10.8],[106,-13.8],[107.5,-9.8],[109,-6.8],[110.5,-8.8],[112,-28.4],[113.5,-16.8],[115,-13.8],[117,-14.8],[119,-17.8],[120,-24],[121.5,-16.8],[123,-13.8],[125,-11.8],[127,-9.8],[129,-10.3],[131,-12.8],[133,-11.3],[135,-14.8],[137,-22],[138.9,-32],[140.1,-42.5],[141.5,-28],[143,-19.8],[145,-17.8],[147,-16.8],[149,-17.8],[151,-16.8],[153,-15.8],[155,-15.8],[157,-14.8],[159,-13.8],[161,-13.8],[163,-13.3],[165,-12.8],[167,-11.8],[169,-11.3],[171,-10.8],[173,-9.8],[175,-8.8],[177,-7.8],[180,-7.8]];
const e8SSouT = [[-180,-4.8],[-177,-4.2],[-174,-3.8],[-171,-4.2],[-168,-4.5],[-165,-5.6],[-162,-7.3],[-160,-10],[-158,-9],[-156,-11],[-154,-12],[-152,-9],[-150,-8.5],[-148,-10.8],[-146,-7.5],[-144,-9],[-142,-10.3],[-140,-9],[-138,-9.5],[-136,-12.3],[-134,-10],[-132,-11],[-130,-13],[-128,-14.3],[-126,-13],[-124,-14.8],[-122,-11],[-120,-8.5],[-118,-12],[-116,-18],[-114,-24],[-112,-22],[-110,-14.5],[-108,-11.5],[-106,-15],[-104,-20],[-102,-21],[-100,-16],[-98,-15.5],[-96,-22],[-94,-18.5],[-92,-14],[-90,-12],[-88,-11.2],[-86,-12],[-84,-14],[-82,-15.3],[-80,-12],[-78,-9.5],[-76,-7.5],[-74,-9],[-72,-13],[-70,-15.5],[-68,-18.5],[-66,-13],[-64,-9],[-62,-7],[-60,-6],[-58,-9],[-56,-12.5],[-55,-8],[-54,-4.8],[-52,-10],[-50,-21],[-48,-12],[-46,-8],[-44,-10],[-42,-5],[-41,-3.4],[-39,-8],[-37,-12],[-35,-7],[-33,-4],[-31,-10],[-30,-18],[-28,-8],[-26,-3],[-24,-1],[-23,1.3],[-21,-3],[-20,-7.5],[-19,-2],[-17.5,4.7],[-16,1.5],[-15,-1],[-14,3.5],[-12,8.7],[-10,7],[-9,5.5],[-8,9],[-7,14],[-6,15.3],[-4,20],[-2,25.5],[0,27.6],[2,25],[3,21],[4,15],[5,7],[5.5,2.5],[6.5,4],[7.5,7],[9,9.6],[10.5,8],[12,5],[13,5.5],[14.5,6.3],[16,3.5],[17,1.8],[18.5,2.5],[20,3.8],[22,0.5],[23.5,-2.5],[25,-4.5],[26.2,-0.2],[27.5,-2],[29,-8],[30.5,-4],[32.6,-2],[34.5,-2.5],[36.2,-4.5],[38,0],[40.7,3.8],[42,3.4],[43.5,1.7],[45,-6],[46.5,-15],[48,-5],[50.7,0.4],[52.5,0.2],[54.4,-0.2],[56,-3],[58,-7.5],[60,-2],[62.6,0.2],[65,1],[67,1.8],[69.5,2.2],[71.6,2.3],[73.5,1.5],[76,-1.3],[78,-3],[80,-5],[82,-9],[84,-7],[86,-4],[88,-5],[90,-10],[92,-16],[94,-20],[95.5,-23],[97,-14],[99,-7],[100,-6],[102,-7],[104,-10],[106,-13],[107,-9.5],[108.5,-6],[110,-8],[112,-15],[113.8,-21],[115.5,-16],[117,-13],[119,-15],[121.3,-21],[123,-16],[125,-13],[127,-9.5],[128.5,-9],[130.5,-12],[132.6,-10],[134,-13],[136,-19],[138,-21],[140,-27],[141.5,-22],[143,-18],[145,-17],[147,-16],[149,-17],[150.5,-17.5],[152.5,-15],[155,-14],[157,-13],[159,-12.5],[161,-11.5],[163,-11.6],[165,-10],[167,-9.5],[169,-9],[171,-8],[173,-7.5],[175,-7],[177,-6],[180,-6.5]];
const e8MRef = [[-180,-24.1],[-178.5,-27],[-176.9,-29.3],[-175.5,-24],[-174.4,-19.5],[-172.5,-16],[-170.6,-14.2],[-168.5,-11.5],[-166.5,-9.3],[-165,-8.4],[-163,-8.8],[-161,-11],[-159,-14],[-157,-12],[-155,-15.5],[-153,-12],[-151,-13],[-149,-16],[-147,-11.5],[-145,-9.5],[-143,-12],[-141,-17.5],[-139,-15],[-137,-13],[-135,-12.5],[-133,-14],[-131,-15],[-129,-13.5],[-127,-14.5],[-125,-15.5],[-123,-12],[-121,-9.5],[-119,-12],[-117,-15],[-115,-19],[-113,-17],[-111,-16],[-109,-15],[-107,-16],[-105,-17],[-103,-16],[-101,-15.5],[-99,-17],[-97,-20],[-95,-21],[-93,-18],[-91,-16],[-89,-15],[-87,-16.5],[-85,-18.5],[-83,-17],[-81,-14],[-79,-12.5],[-77,-14],[-75,-12.5],[-73,-14],[-71,-17],[-69,-21],[-67,-17],[-65,-12],[-63,-8],[-61,-7],[-59,-9],[-57,-13],[-55,-6],[-53,-8],[-51,-16],[-49,-10],[-47,-7],[-45,-11],[-43,-15],[-41,-9],[-39,-4.5],[-37,-7],[-35,-15],[-33,-10],[-31,-6],[-29,-3.5],[-27.6,-1.9],[-26,-5],[-24,-8],[-22,-3],[-20,0],[-18,2.5],[-16,3.6],[-14,2],[-12,5],[-10,6.5],[-8,6.5],[-7,11],[-6,14],[-4,19.5],[-2,25],[0,27.3],[2,25],[3,21],[4,15],[5,8],[6,5],[7.5,6.5],[9,8.8],[10.5,7],[12,4],[13.5,5],[15,4],[16.5,1],[18,2],[20,1],[22,-0.5],[23.5,-3.5],[25,-5],[26.5,-1],[28,-3],[29.5,-7],[31,-3],[33,-1.5],[35,-3],[37,-3],[39,1.5],[41,3.3],[43,1.5],[45,-5],[46.5,-12],[48,-4],[50,0.5],[52,1],[54,0],[56,-2],[58,-5],[60,-1],[62,2],[63.5,3],[65.5,2.5],[68,1.8],[70,1],[72,1.2],[74,0.5],[76,-2],[78,-6],[80,-13],[82,-6],[83,-2.5],[84,-4],[86,-7],[87,-21],[88.5,-10],[90.5,-4.7],[92,-6],[94,-13],[95.5,-19],[97,-12],[99,-6.5],[100.7,-5],[102,-6.5],[104,-10],[106,-15],[108,-12],[110,-14],[112.6,-13.6],[114,-15],[116,-16],[118,-14],[120,-12.4],[122,-14],[124,-17],[126.3,-22.2],[128,-15],[130,-11],[132.6,-9.9],[134.5,-15],[136.4,-25.3],[138,-19],[140,-16],[142,-18],[145.1,-21.6],[147,-19],[149.5,-17],[152.7,-16.7],[154.5,-19],[156.4,-22.2],[158,-19],[160,-17],[162,-16],[165.2,-16.1],[167.5,-18],[170.2,-21.6],[171.4,-37.3],[172.5,-28],[173.9,-24.1],[175.7,-33.3],[177.7,-22.9],[179.5,-36.7],[180,-24.1]];
const e8MSouI = [[-180,-6.2],[-177,-5.5],[-174,-4.5],[-171,-5.5],[-168,-5],[-165,-6.5],[-162,-8],[-160,-11],[-158,-10],[-156,-13],[-154,-14.5],[-152,-10],[-150,-9.5],[-148,-12],[-146,-9],[-144,-10.5],[-142,-12.5],[-140,-10],[-138,-11],[-136,-13.5],[-134,-11],[-132,-12],[-130,-13.5],[-128,-12],[-126,-11],[-124,-13],[-122,-9],[-120,-7],[-117,-6.2],[-115,-8],[-113,-14],[-111,-17],[-109,-15],[-107,-17],[-105,-18],[-103,-17],[-101,-19],[-99,-16],[-97,-19],[-95,-21],[-93.7,-22],[-92,-18],[-90,-13],[-88,-10.5],[-86.5,-10.2],[-84,-12],[-82,-14],[-80,-17],[-78,-15],[-76,-13],[-74,-14],[-72,-18],[-70,-21],[-68,-16],[-66,-12],[-64,-15],[-62,-20],[-60.4,-22],[-59,-15],[-57,-8],[-55,-7],[-53,-10],[-51,-14],[-49,-9],[-47,-6],[-45,-9],[-43,-13],[-41,-7],[-39,-4],[-37,-8],[-35,-12],[-33,-3],[-32,-0.7],[-30,-5],[-28,-12],[-26,-3],[-24,0],[-22,-2],[-21.2,-4.4],[-20,-1],[-18,3],[-16,4.5],[-14,4],[-12,8],[-10,8.5],[-8,10],[-6,16],[-4,21],[-2,26],[0,27.8],[2,25],[3,21],[4,14],[5,6],[6,0],[7,-8],[8,4],[9,8.5],[10.5,7],[12,4.5],[13.5,5.5],[15,4],[16,0],[17,-7.5],[18,-2],[19.5,1.5],[21,2.8],[23,2],[25,2.5],[27,3],[29,2.2],[31,1.5],[33,0.5],[35,-1],[37,-3],[39,0],[41,3],[43,1.5],[45,-4],[46.5,-12],[48,-6],[50,-1],[52,-0.5],[54.5,0],[56,-2.5],[58,-6],[60,-2.5],[62,0],[64,1],[66,1.5],[68,1.8],[70,1.7],[72,1.5],[74,0.5],[76,-2],[78,-4],[80,-6],[82,-10],[84,-7.5],[86,-5],[88,-6],[90,-10],[92,-15],[94,-18],[96,-21],[97.5,-14],[99,-8],[100.5,-6.5],[102,-7.5],[104,-11],[106,-14],[107.5,-10],[109,-7],[110.5,-9],[112,-26],[113.5,-17],[115,-14],[117,-15],[119,-18],[120,-24.4],[121.5,-17],[123,-14],[125,-12],[127,-10],[129,-10.5],[131,-13],[133,-11.5],[135,-15],[137,-20],[138.9,-30],[140.1,-37],[141.5,-26],[143,-20],[145,-18],[147,-17],[149,-18],[151,-17],[153,-16],[155,-16],[157,-15],[159,-14],[161,-14],[163,-13.5],[165,-13],[167,-12],[169,-11.5],[171,-11],[173,-10],[175,-9],[177,-8],[180,-8]];
const e8MSouT = [[-180,-5],[-177,-4.3],[-174,-3.9],[-171,-4.3],[-168,-4.6],[-165,-5.8],[-162,-7.5],[-160,-10.5],[-158,-9.3],[-156,-11],[-154,-12.5],[-152,-9],[-150,-8.7],[-148,-11],[-146,-7.3],[-144,-9],[-142,-10.5],[-140,-9.1],[-138,-9.5],[-136,-12.5],[-134,-10],[-132,-11],[-130,-13],[-128,-14.5],[-126,-13],[-124,-15],[-122,-11],[-120,-8.4],[-118,-12],[-116,-19],[-114,-32],[-112,-27],[-110,-15],[-108,-11.8],[-106,-15],[-104,-21],[-102,-22.5],[-100,-16],[-98,-15.5],[-96,-23.5],[-94,-19],[-92,-14],[-90,-12],[-88,-11.1],[-86,-12],[-84,-14],[-82,-15.5],[-80,-12],[-78,-9.5],[-76,-7.3],[-74,-9],[-72,-13],[-70,-15.5],[-68,-19],[-66,-13],[-64,-9],[-62,-7],[-60,-5.9],[-58,-9],[-56,-13],[-55,-8],[-54,-4.7],[-52,-10],[-50,-22.9],[-48,-12],[-46,-8],[-44,-10],[-42,-5],[-41,-3.3],[-39,-8],[-37,-12],[-35,-7],[-33,-4],[-31,-10],[-30,-19],[-28,-8],[-26,-3],[-24,-1],[-23,1.4],[-21,-3],[-20,-8],[-19,-2],[-17.5,4.8],[-16,1.5],[-15,-1],[-14,3.5],[-12,8.8],[-10,7],[-9,5.5],[-8,9],[-7,14],[-6,15.3],[-4,20],[-2,25.5],[0,27.6],[2,25],[3,21],[4,15],[5,7],[5.5,2.5],[6.5,4],[7.5,7],[9,9.7],[10.5,8],[12,5],[13,5.5],[14.5,6.4],[16,3.5],[17,1.8],[18.5,2.5],[20,3.9],[22,0.5],[23.5,-2.5],[25,-4.5],[26.2,-0.1],[27.5,-2],[29,-8],[30.5,-4],[32.6,-1.9],[34.5,-2.5],[36.2,-4.4],[38,0],[40.7,3.9],[42,3.5],[43.5,1.8],[45,-6],[46.5,-14],[48,-5],[50.7,0.5],[52.5,0.2],[54.4,-0.1],[56,-3],[58,-7.5],[60,-2],[62.6,0.2],[65,1],[67,1.8],[69.5,2.2],[71.6,2.4],[73.5,1.5],[76,-1.3],[78,-3],[80,-5],[82,-9],[84,-7],[86,-4],[88,-5],[90,-10],[92,-16],[94,-20],[95.5,-24],[97,-14],[99,-7],[100,-5.9],[102,-7],[104,-10],[106,-13],[107,-9.3],[108.5,-6],[110,-8],[112,-15],[113.8,-21.6],[115.5,-16],[117,-13],[119,-15],[121.3,-21.6],[123,-16],[125,-13],[127,-9.5],[128.5,-9],[130.5,-12],[132.6,-10],[134,-13],[136,-19],[138,-21],[140,-27.8],[141.5,-22],[143,-18],[145,-17],[147,-16],[149,-17],[150.5,-17.9],[152.5,-15],[155,-14.2],[157,-13],[159,-12.5],[161,-11.5],[163,-11.8],[165,-10],[167,-9.6],[169,-9],[171,-8],[173,-7.5],[175,-7],[177,-6],[180,-6.5]];

// ---------- 8 GHz, H-plane ----------
const h8SRefT = [[-180,-6.2],[-177,-8],[-174.5,-9.4],[-171,-7.5],[-168,-4],[-165,-1.5],[-162,0.2],[-158,1.2],[-155,1.3],[-152,0.8],[-149,-0.5],[-146,-1.6],[-143,-1.8],[-140,-0.8],[-136,0.3],[-132,0.8],[-129,0.4],[-126,-0.6],[-122,-1.6],[-118,-2.2],[-114,-2.6],[-111,-3.6],[-109,-6],[-107,-10],[-105,-14],[-102.5,-15],[-100.5,-10.5],[-98.5,-7.5],[-96,-7],[-93.5,-8.3],[-91,-10],[-89,-14],[-87,-17],[-85,-18.5],[-83,-21],[-81.5,-26],[-80.3,-31],[-79,-24],[-77.5,-18],[-75.5,-14],[-73,-11],[-70.5,-10.3],[-68.5,-11],[-66.5,-13],[-64.5,-10],[-62,-6.8],[-60,-5.6],[-57.5,-7],[-55.5,-9],[-53,-5.5],[-49.8,-3.2],[-47.5,-5],[-45.2,-8.4],[-42.5,-3.7],[-39.5,-1.2],[-37.3,-4.5],[-35.2,-9.6],[-32.5,-4.2],[-30,-1.3],[-28,-5],[-26.2,-12],[-24.7,-19],[-23.3,-9],[-21.5,0.3],[-19.8,3.5],[-18,-1.5],[-16.4,-7.3],[-15.2,-1.5],[-13.9,3.3],[-12.5,0],[-11.3,-4],[-10,2.5],[-8.7,12],[-7.4,0],[-6.5,-20],[-6.2,-34.6],[-5.7,-20],[-5,-3],[-4,8],[-3,16],[-2,22.3],[-1,26.2],[0,27.4],[1,26.2],[2,22.3],[3,16],[4,8],[5,-3],[5.6,-20],[5.9,-33],[6.4,-20],[7.2,0],[8.5,12],[9.9,2.5],[11.3,-7.5],[12.6,-2],[13.9,2],[15.2,-1.5],[16.4,-7.3],[18,-1],[19.5,3.5],[21,1],[22.6,-8],[23.9,-19.5],[25.3,-10],[27,-3],[29.3,-1],[31.5,-3.7],[34.2,-10],[36.5,-4],[38.8,-1],[41.5,-3.7],[43.9,-8.3],[46.5,-5],[49,-3.2],[51.5,-5],[54.2,-8.6],[56.8,-6.5],[59.3,-5.3],[62,-8],[64.5,-13.5],[66.5,-11.5],[69,-9.5],[71,-8.6],[73.4,-13],[75.5,-16],[77.5,-20],[79,-24],[80.3,-27],[81.5,-22],[83,-20],[85,-26.5],[86.5,-20],[88,-17],[90,-12],[92.5,-8.5],[95.3,-7.2],[97.5,-8.8],[99.5,-12.5],[101.7,-15.5],[103.5,-12],[105.5,-8.5],[107.5,-6],[110,-4.2],[113,-3.2],[117,-2.6],[121,-1.8],[125,-0.5],[128,0.5],[131,0.4],[134,-0.9],[136.5,-1.8],[139,-1.4],[142,-0.2],[145,1],[148,1.5],[151,1.3],[154,0.2],[157,-1.8],[160,-3.8],[163,-5.8],[166,-7.5],[169,-9],[172,-9],[175,-8],[178,-6.8],[180,-6.2]];
const h8SSouI = [[-180,-6.5],[-177,-8.3],[-174.5,-9.1],[-171,-7.3],[-168,-4.3],[-165,-2.3],[-161,-0.6],[-157,0.2],[-154,0.4],[-151,-0.1],[-148,-1],[-145,-2],[-141,-2.8],[-137,-1.3],[-133,0],[-130,0.6],[-127,0.2],[-124,-0.6],[-120,-1.4],[-116,-1.6],[-112,-1.3],[-110,-2.8],[-108,-5.8],[-106,-10.8],[-104,-14],[-102,-13.3],[-100,-11.8],[-98,-11],[-96,-11],[-94,-11.8],[-92,-12.8],[-89.5,-14.8],[-87,-16.8],[-85.5,-14.8],[-84,-13.2],[-82.5,-14.8],[-81.2,-20],[-80.3,-31],[-79.2,-21.8],[-77.5,-16.8],[-75,-14.8],[-72.5,-12.8],[-70,-11.8],[-68.5,-12.8],[-67,-14.3],[-65,-10.8],[-62.5,-6.8],[-60.5,-6.3],[-58.5,-7.6],[-56,-9.6],[-53.5,-5.8],[-51,-3.8],[-48.5,-4.8],[-46.5,-7.8],[-44,-3.3],[-41,-1.6],[-38.5,-4.8],[-36.5,-11.8],[-34.5,-4.8],[-32,-1.6],[-30,-2.8],[-28.3,-4.8],[-26.7,1.2],[-25,-6],[-23.6,-22.3],[-22.2,-5],[-20.3,2.2],[-18.5,-1.8],[-17,-5.8],[-16,-0.8],[-14.6,4.9],[-13.2,-0.8],[-12,-9.5],[-10.5,0.2],[-8.7,11.7],[-7.4,3.2],[-6.2,-9.8],[-5,-0.8],[-4,9.2],[-3,17.2],[-2,23.2],[-1,26.9],[0,28],[1,26.9],[2,23.2],[3,17.2],[4,9.2],[4.9,-0.8],[5.9,-9.8],[7.2,3.2],[8.5,11.7],[10,1.2],[11.8,-7.8],[12.8,-0.8],[13.9,4.7],[15.2,0.2],[16.4,-4.8],[18,-0.8],[19.5,2.2],[21,-0.8],[22.6,-9],[23.9,-22],[25.2,-6],[26.7,0],[28.5,-1.8],[30.5,-5.8],[32.4,-12],[34.5,-4.8],[37,-0.6],[39.2,-2.8],[41.3,-7.8],[44,-5.3],[47.8,-3.3],[50.5,-5.8],[52.9,-9.8],[55.5,-6.8],[58,-5.3],[60.5,-7.8],[63.2,-12.8],[65.5,-12.3],[68.3,-11.3],[70.5,-12.3],[73.4,-14.3],[75.5,-16.8],[77.2,-21],[78.6,-26],[80,-30],[81.2,-32.5],[82.4,-20],[83.7,-13.5],[86,-14.3],[88.9,-13.8],[91.5,-12.3],[94,-11.7],[96,-12.1],[97.8,-12.8],[100,-14.8],[101.7,-16.5],[103.5,-13.3],[105.5,-9.8],[108,-6.3],[112,-3.3],[116,-2.1],[120,-1.6],[124,-0.8],[128,0.3],[131,0.5],[134,-0.8],[137,-2.6],[140,-2],[143,-0.6],[146,0.5],[149,1.1],[152,1],[155,0],[158,-1.8],[161,-3.8],[164,-5.8],[167,-7.3],[170,-8.4],[173,-8.4],[176,-7.6],[180,-6.6]];
const h8SSouT = [[-180,-6.2],[-177,-7.8],[-174,-8.6],[-171,-7.2],[-168,-3.8],[-165,-1],[-162,0.8],[-158,1.8],[-155,2],[-152,1.3],[-149,-0.2],[-146,-1.4],[-143,-1.7],[-140,-0.7],[-136,0.5],[-132,1],[-129,0.6],[-126,-0.5],[-122,-1.7],[-118,-2.4],[-114,-3],[-111,-4],[-109,-6.2],[-107,-10.2],[-105,-14.2],[-102.5,-15.7],[-100.5,-11.2],[-98.5,-8.2],[-96,-7.5],[-93.5,-8.7],[-91,-10],[-89,-14.2],[-87,-17.7],[-85,-18.2],[-83.5,-19.5],[-82,-25],[-80.7,-36],[-79.3,-27],[-78,-20],[-76,-16.2],[-73.5,-13.2],[-70.4,-11.5],[-68.5,-12.2],[-66.5,-13.6],[-64.5,-10.2],[-62,-6.7],[-60,-5.6],[-57.5,-7.2],[-55.5,-9],[-53,-5.7],[-49.8,-3.2],[-47.5,-5.2],[-45.2,-8.4],[-42.5,-3.7],[-39.5,-1.2],[-37.3,-4.7],[-35.2,-9.6],[-32.5,-4.2],[-30,-1.3],[-28,-5.2],[-26.2,-12.5],[-24.7,-20.5],[-23.3,-9.2],[-21.5,0.3],[-19.8,3.6],[-18,-1.7],[-16.4,-7.7],[-15.2,-1.7],[-13.9,3.3],[-12.5,-0.2],[-11.3,-4.2],[-10,2.8],[-8.7,12.4],[-7.4,4.8],[-6.2,-13.5],[-5,-3.2],[-4,7.8],[-3,15.8],[-2,22.3],[-1,26.2],[0,27.4],[1,26.2],[2,22.3],[3,15.8],[4,7.8],[4.9,-3.2],[5.9,-14],[7.2,4.8],[8.5,12.4],[9.9,2.8],[11.3,-7.8],[12.6,-2.2],[13.9,2],[15.2,-1.7],[16.4,-7.7],[18,-1.2],[19.5,3.6],[21,0.8],[22.6,-8.2],[23.9,-20.5],[25.3,-10.2],[27,-3.2],[29.3,-1],[31.5,-3.7],[34.2,-10.5],[36.5,-4.2],[38.8,-1],[41.5,-3.7],[43.9,-8.4],[46.5,-5.2],[49,-3.2],[51.5,-5.2],[54.2,-8.7],[56.8,-6.7],[59.3,-5.3],[62,-8.2],[64.5,-13.9],[66.5,-12.2],[68.3,-10.5],[70.5,-11.2],[73.4,-15.2],[75.5,-17.2],[77.5,-22.5],[78.8,-29],[80,-35],[81.1,-27],[82.5,-20.2],[84.5,-18.7],[87,-17.7],[89,-16.2],[91,-11.2],[93,-8.2],[95.3,-7.5],[97.5,-9.2],[99.5,-13.2],[101.7,-16],[103.5,-12.2],[105.5,-8.7],[107.5,-6.2],[110,-4.2],[113,-3.2],[117,-2.5],[121,-1.9],[125,-0.5],[128,0.9],[131,0.6],[134,-0.9],[136.5,-1.8],[139,-1.4],[142,0],[145,1.3],[148,2],[151,1.6],[154,0.3],[157,-1.7],[160,-3.7],[163,-5.7],[166,-7.2],[169,-8.4],[172,-8.2],[175,-7.5],[178,-6.7],[180,-6.2]];
const h8MRef = [[-180,-24],[-178.5,-29],[-177,-31.7],[-175.5,-27],[-174,-22],[-172,-18.6],[-169,-16],[-166,-13],[-163,-8],[-160,-4],[-157,-2],[-154,-0.8],[-151,0],[-148.5,-1],[-146,-3],[-143.5,-5.5],[-141,-7],[-139,-5],[-137,-3],[-135,-2.2],[-132,-2.8],[-128,-3.2],[-125,-3.3],[-122.5,-4.5],[-120,-5.3],[-117,-4.8],[-115,-4.4],[-112.5,-5.5],[-110,-8],[-108,-12],[-106,-17],[-104,-20.1],[-102,-16],[-100,-13],[-98,-12],[-95.5,-11.5],[-93,-11],[-90.5,-12.5],[-88,-15],[-86,-17.5],[-84,-20],[-82,-25],[-80.4,-29],[-78.5,-24],[-77,-22],[-75.5,-17],[-73,-12],[-70.4,-9.7],[-68.5,-12],[-66.5,-17.4],[-64,-12],[-62,-9.5],[-60,-8.8],[-58,-11],[-55.5,-15.9],[-53,-9],[-50.5,-6.4],[-48,-9],[-45.2,-21.7],[-42.5,-8],[-40,-3],[-37.5,-6],[-35,-14.5],[-32.5,-6],[-30,-3.5],[-28,-6],[-26,-10],[-23.5,-2],[-20.8,3],[-18.5,-2],[-17,-7.5],[-15.8,-1],[-14.6,4.7],[-13.2,-1],[-12.2,-8],[-10.5,1],[-8.7,11],[-7.5,3],[-6.3,-9],[-5,-1],[-4,8],[-3,16],[-2,22.5],[-1,26],[0,27.2],[1,26],[2,22.5],[3,16],[4,8],[5,-1],[6.3,-9],[7.5,3],[8.7,11.5],[10,2],[11.5,-7],[12.8,-1],[14.2,3.5],[15.5,-1],[17,-6],[18.5,-1],[20.2,3],[21.8,-2],[23.4,-9],[25,-5],[27,-2],[29.8,-3],[32,-7],[34.4,-13],[36.5,-5],[38.8,-1.5],[40.8,-5],[42.6,-10],[45,-6],[47.8,-4],[50.5,-8],[52.9,-16.5],[55.5,-9],[57.5,-6],[59.3,-5.5],[61.5,-9],[64.5,-22],[67,-11],[69.6,-8],[71.5,-12],[73.4,-28.4],[75.3,-20],[77.3,-17],[79.5,-19],[81.5,-22],[83.7,-27],[85.5,-20],[87.5,-13],[90.1,-10.6],[92.5,-11],[95.3,-12],[98,-14],[100,-16],[101.7,-17.5],[103.5,-14],[106,-9],[109,-5],[112,-2.5],[115,-1],[118,-0.5],[121,-0.4],[124,-0.3],[127,0.3],[130,0.8],[133,0.4],[136,-0.5],[139,-0.3],[142,0.5],[145,1.3],[148,1.2],[151,0.5],[154,-0.8],[156.5,-3],[158.5,-6],[160.5,-10],[162.5,-14],[165,-17],[167.5,-19.5],[170,-22],[172.5,-25],[175,-27.2],[177,-25],[178.5,-24],[180,-24.5]];
const h8MSouI = [[-180,-6.8],[-177,-8.5],[-174.5,-9.3],[-171,-7.5],[-168,-4.5],[-165,-2.5],[-161,-0.8],[-157,0],[-154,0.2],[-151,-0.3],[-148,-1.2],[-145,-2.2],[-141,-3],[-137,-1.5],[-133,-0.2],[-130,0.4],[-127,0],[-124,-0.8],[-120,-1.6],[-116,-1.8],[-112,-1.5],[-110,-3],[-108,-6],[-106,-11],[-104,-14.3],[-102,-13.5],[-100,-12],[-98,-11.3],[-96,-11.3],[-94,-12],[-92,-13],[-89.5,-15],[-87,-17],[-85.5,-15],[-84,-13.4],[-82.5,-15],[-81.2,-20],[-80.3,-32],[-79.2,-22],[-77.5,-17],[-75,-15],[-72.5,-13],[-70,-12],[-68.5,-13],[-67,-14.5],[-65,-11],[-62.5,-7],[-60.5,-6.5],[-58.5,-7.8],[-56,-9.8],[-53.5,-6],[-51,-4],[-48.5,-5],[-46.5,-8],[-44,-3.5],[-41,-1.8],[-38.5,-5],[-36.5,-12],[-34.5,-5],[-32,-1.8],[-30,-3],[-28.3,-5],[-26.7,1],[-25,-5],[-23.6,-15],[-22.2,-4],[-20.3,2],[-18.5,-2],[-17,-6],[-16,-1],[-14.6,4.7],[-13.2,-1],[-12,-9.7],[-10.5,0],[-8.7,11.5],[-7.4,3],[-6.2,-10],[-5,-1],[-4,9],[-3,17],[-2,23],[-1,26.7],[0,27.8],[1,26.7],[2,23],[3,17],[4,9],[4.9,-1],[5.9,-10],[7.2,3],[8.5,11.5],[10,1],[11.8,-8],[12.8,-1],[13.9,4.5],[15.2,0],[16.4,-5],[18,-1],[19.5,2],[21,-1],[22.6,-8],[23.9,-21],[25.2,-5],[26.7,-0.2],[28.5,-2],[30.5,-6],[32.4,-12.2],[34.5,-5],[37,-0.8],[39.2,-3],[41.3,-8],[44,-5.5],[47.8,-3.5],[50.5,-6],[52.9,-10],[55.5,-7],[58,-5.5],[60.5,-8],[63.2,-13],[65.5,-12.5],[68.3,-11.5],[70.5,-12.5],[73.4,-14.5],[75.5,-17],[77.2,-21],[78.6,-25],[80,-29],[81.2,-32],[82.4,-20],[83.7,-13.7],[86,-14.5],[88.9,-14],[91.5,-12.5],[94,-11.9],[96,-12.3],[97.8,-13],[100,-15],[101.7,-16.8],[103.5,-13.5],[105.5,-10],[108,-6.5],[112,-3.5],[116,-2.3],[120,-1.8],[124,-1],[128,0.1],[131,0.3],[134,-1],[137,-2.8],[140,-2.2],[143,-0.8],[146,0.3],[149,0.9],[152,0.8],[155,-0.2],[158,-2],[161,-4],[164,-6],[167,-7.5],[170,-8.6],[173,-8.6],[176,-7.8],[180,-6.8]];
const h8MSouT = [[-180,-6],[-177,-7.5],[-174,-8.3],[-171,-7],[-168,-3.5],[-165,-0.8],[-162,1],[-158,2],[-155,2.2],[-152,1.5],[-149,0],[-146,-1.2],[-143,-1.5],[-140,-0.5],[-136,0.7],[-132,1.2],[-129,0.8],[-126,-0.3],[-122,-1.5],[-118,-2.2],[-114,-2.8],[-111,-3.8],[-109,-6],[-107,-10],[-105,-14],[-102.5,-15.5],[-100.5,-11],[-98.5,-8],[-96,-7.3],[-93.5,-8.5],[-91,-9.8],[-89,-14],[-87,-17.5],[-85,-18],[-83.5,-19],[-82,-24],[-80.6,-38.8],[-79.3,-28],[-78,-20],[-76,-16],[-73.5,-13],[-70.4,-11.3],[-68.5,-12],[-66.5,-13.4],[-64.5,-10],[-62,-6.5],[-60,-5.4],[-57.5,-7],[-55.5,-8.8],[-53,-5.5],[-49.8,-3],[-47.5,-5],[-45.2,-8.2],[-42.5,-3.5],[-39.5,-1],[-37.3,-4.5],[-35.2,-9.4],[-32.5,-4],[-30,-1.1],[-28,-5],[-26.2,-12],[-24.7,-19.8],[-23.3,-9],[-21.5,0.5],[-19.8,3.8],[-18,-1.5],[-16.4,-7.5],[-15.2,-1.5],[-13.9,3.5],[-12.5,0],[-11.3,-4],[-10,3],[-8.7,12.6],[-7.4,5],[-6.2,-13],[-5,-3],[-4,8],[-3,16],[-2,22.5],[-1,26.3],[0,27.5],[1,26.3],[2,22.5],[3,16],[4,8],[4.9,-3],[5.9,-13.7],[7.2,5],[8.5,12.6],[9.9,3],[11.3,-7.6],[12.6,-2],[13.9,2.2],[15.2,-1.5],[16.4,-7.5],[18,-1],[19.5,3.8],[21,1],[22.6,-8],[23.9,-20.2],[25.3,-10],[27,-3],[29.3,-0.8],[31.5,-3.5],[34.2,-10.3],[36.5,-4],[38.8,-0.8],[41.5,-3.5],[43.9,-8.2],[46.5,-5],[49,-3],[51.5,-5],[54.2,-8.5],[56.8,-6.5],[59.3,-5.1],[62,-8],[64.5,-13.7],[66.5,-12],[68.3,-10.3],[70.5,-11],[73.4,-15],[75.5,-17],[77.5,-22],[78.8,-28],[79.9,-37.6],[81.1,-27],[82.5,-20],[84.5,-18.5],[87,-17.5],[89,-16],[91,-11],[93,-8],[95.3,-7.3],[97.5,-9],[99.5,-13],[101.7,-15.8],[103.5,-12],[105.5,-8.5],[107.5,-6],[110,-4],[113,-3],[117,-2.3],[121,-1.7],[125,-0.3],[128,1.1],[131,0.8],[134,-0.7],[136.5,-1.6],[139,-1.2],[142,0.2],[145,1.5],[148,2.2],[151,1.8],[154,0.5],[157,-1.5],[160,-3.5],[163,-5.5],[166,-7],[169,-8.2],[172,-8],[175,-7.3],[178,-6.5],[180,-6]];

// ---------- styling ----------
const FONT = 'Lato, "Open Sans", sans-serif';
const COLORS = ['#1a1a1a', '#1aa9e6', '#ff0000', '#1a1a1a', '#1aa9e6', '#ff0000'];
const DASHED = [true, true, true, false, false, false];
const MAJOR_GRID = '#a8a8a8';
const MINOR_GRID = '#d9d9d9';
const LABEL_COLOR = '#595959';

// One entry per sub-plot: layout plus the six curves it draws
const panels = [
  { title: 'Farfield at 4 GHz (E-plane)', tx: 363, ty: 19,
    grid: { left: 44, top: 43, width: 670, height: 369 },
    yMin: -50, yMax: 30, yStep: 10, xStep: 30, hideMaxX: true,
    yNameGap: 27, xNameGap: 24, xLabelMargin: 7,
    legendLeft: 63, legendTop: 385,
    curves: [e4SRefT, e4SSouI, e4SSouT, e4MRef, e4MSouI, e4MSouT] },
  { title: 'Farfield at 4 GHz (H-plane)', tx: 1087, ty: 20,
    grid: { left: 773, top: 44, width: 661, height: 407 },
    yMin: -45, yMax: 30, yStep: 15, xStep: 60, hideMaxX: false,
    yNameGap: 28, xNameGap: 25, xLabelMargin: 9,
    legendLeft: 784, legendTop: 428,
    curves: [h4SRefT, h4SSouI, h4SSouT, h4MRef, h4MSouI, h4MSouT] },
  { title: 'Farfield at 8 GHz (E-plane)', tx: 360, ty: 543,
    grid: { left: 47, top: 567, width: 660, height: 406 },
    yMin: -45, yMax: 30, yStep: 15, xStep: 60, hideMaxX: false,
    yNameGap: 28, xNameGap: 25, xLabelMargin: 10,
    legendLeft: 65, legendTop: 947,
    curves: [e8SRefT, e8SSouI, e8SSouT, e8MRef, e8MSouI, e8MSouT] },
  { title: 'Farfield at 8 GHz (H-plane)', tx: 1087, ty: 544,
    grid: { left: 773, top: 569, width: 661, height: 408 },
    yMin: -45, yMax: 30, yStep: 15, xStep: 60, hideMaxX: false,
    yNameGap: 28, xNameGap: 25, xLabelMargin: 8,
    legendLeft: 782, legendTop: 953,
    curves: [h8SRefT, h8SSouI, h8SSouT, h8MRef, h8MSouI, h8MSouT] }
];

const nameStyle = { fontFamily: FONT, fontSize: 9, fontWeight: 'bold', color: '#404040' };

const option = {
  animation: false,
  backgroundColor: '#ffffff',
  textStyle: { fontFamily: FONT },
  grid: panels.map(p => Object.assign({ show: false, containLabel: false, outerBoundsMode: 'none' }, p.grid)),
  xAxis: panels.map((p, i) => ({
    type: 'value', gridIndex: i, min: -180, max: 180, interval: p.xStep,
    name: 'Theta / degrees', nameLocation: 'middle', nameGap: p.xNameGap, nameTextStyle: nameStyle,
    axisLine: { show: true, lineStyle: { color: MAJOR_GRID, width: 1 } },
    axisTick: { show: false },
    axisLabel: { color: LABEL_COLOR, fontSize: 10, fontFamily: FONT, margin: p.xLabelMargin,
                 showMinLabel: true, showMaxLabel: !p.hideMaxX, hideOverlap: false },
    splitLine: { show: true, lineStyle: { color: MAJOR_GRID, width: 1 } },
    minorTick: { show: false, splitNumber: 6 },
    minorSplitLine: { show: true, lineStyle: { color: MINOR_GRID, width: 1 } }
  })),
  yAxis: panels.map((p, i) => ({
    type: 'value', gridIndex: i, min: p.yMin, max: p.yMax, interval: p.yStep,
    name: 'Directivity / dBi', nameLocation: 'middle', nameGap: p.yNameGap, nameTextStyle: nameStyle,
    axisLine: { show: true, lineStyle: { color: MAJOR_GRID, width: 1 } },
    axisTick: { show: true, length: 5, lineStyle: { color: MAJOR_GRID } },
    axisLabel: { color: LABEL_COLOR, fontSize: 10, fontFamily: FONT, margin: 8,
                 showMinLabel: true, showMaxLabel: true, hideOverlap: false },
    splitLine: { show: true, lineStyle: { color: MAJOR_GRID, width: 1 } },
    minorTick: { show: false, splitNumber: 5 },
    minorSplitLine: { show: true, lineStyle: { color: MINOR_GRID, width: 1 } }
  })),
  // Legends sit inside each plot, on a white panel; the symbol part of the
  // line-series legend icon is made invisible so only the stroke remains.
  legend: panels.map(p => ({
    data: NAMES, left: p.legendLeft, top: p.legendTop, orient: 'horizontal',
    itemWidth: 28, itemHeight: 10, itemGap: 18, padding: [5, 11],
    backgroundColor: '#ffffff', z: 1, selectedMode: false,
    itemStyle: { opacity: 0 },
    textStyle: { fontFamily: FONT, fontSize: 9.5, color: '#404040' }
  })),
  series: [],
  graphic: []
};

panels.forEach((p, i) => {
  p.curves.forEach((pts, k) => {
    option.series.push({
      name: NAMES[k], type: 'line', xAxisIndex: i, yAxisIndex: i,
      data: pts, symbol: 'none', showSymbol: false,
      smooth: 0.3, smoothMonotone: 'x', silent: true, z: 2,
      lineStyle: { color: COLORS[k], width: 2.6, type: DASHED[k] ? [8, 5] : 'solid' },
      itemStyle: { color: COLORS[k] }
    });
  });
  option.graphic.push({
    type: 'text', x: p.tx, y: p.ty, z: 20,
    style: { text: p.title, textAlign: 'center', textVerticalAlign: 'middle',
             font: 'bold 17px ' + FONT, fill: '#404040' }
  });
});

// Frequency badges
[['4 GHz', 57], ['8 GHz', 581]].forEach(([label, top]) => {
  option.graphic.push({
    type: 'group', z: 30,
    children: [
      { type: 'rect', shape: { x: 649, y: top, width: 152, height: 46 }, style: { fill: '#9a9ea1' } },
      { type: 'text', x: 725, y: top + 24,
        style: { text: label, textAlign: 'center', textVerticalAlign: 'middle',
                 font: 'bold 28px "Open Sans", sans-serif', fill: '#ffffff' } }
    ]
  });
});

const chart = echarts.init(document.getElementById('chart'), null, { renderer: 'canvas' });
chart.setOption(option);
</script>
</body>
</html>
